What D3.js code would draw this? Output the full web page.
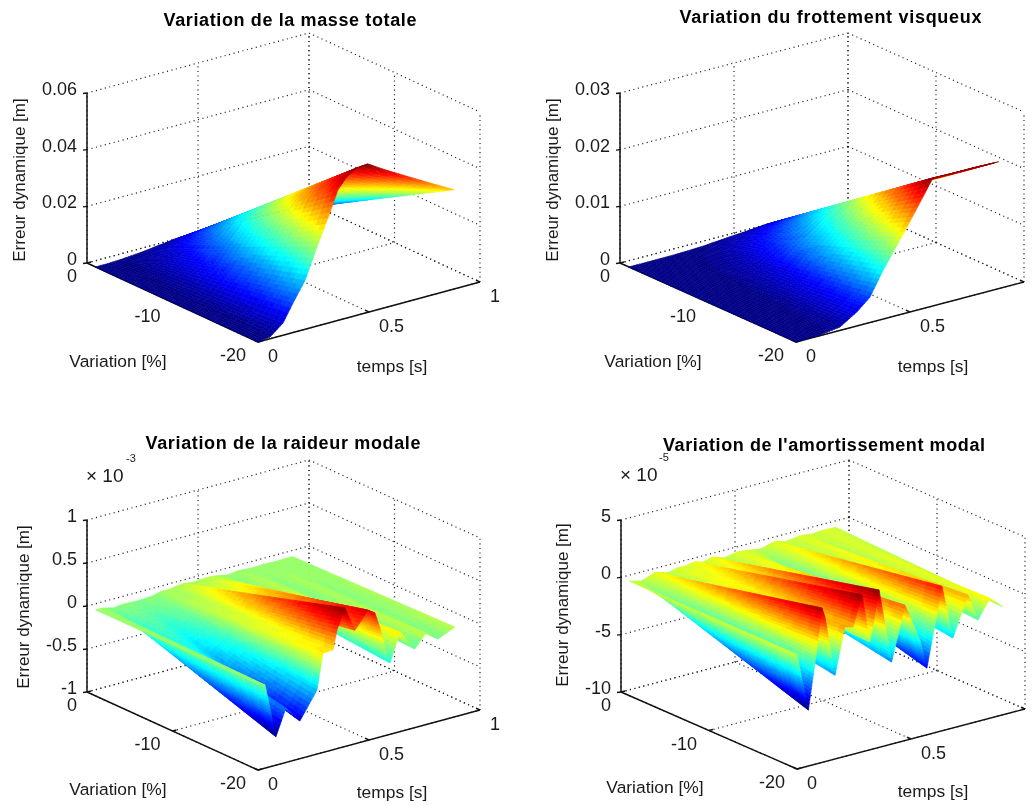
<!DOCTYPE html>
<html><head><meta charset="utf-8">
<script src="https://cdn.jsdelivr.net/npm/d3@7"></script>
<style>html,body{margin:0;padding:0;background:#fff;overflow:hidden}
svg{display:block;filter:blur(0.5px)}
text{font-family:"Liberation Sans",Arial,sans-serif;fill:#1a1a1a}</style>
</head><body><svg id="c" width="1035" height="805"></svg>
<script>
// --- data: error at variation -1 % and -20 % over time ---
const variations = [-1, -20];
const varTicks = [0, -10, -20];
const timeTicks = [0, 0.5, 1];

const time1 = [0,.054,.113,.158,.212,.266,.324,.36,.40,.446,.495,.563,.65,.75,.885];
const mass_v20 = [0,.0006,.0043,.0104,.0172,.0279,.0387,.046,.0498,.052,.0524,.0491,.0452,.0408,.035];
const mass_v1 = [0,.00003,.00022,.00052,.00086,.0014,.00194,.0023,.00249,.0026,.00262,.00246,.00226,.00204,.00175];
const zTicks1 = [0,.02,.04,.06];
const zLabels1 = ["0","0.02","0.04","0.06"];

const time2 = [0,.105,.193,.268,.325,.382,.487,.601,.7,.8,.89];
const visc_v20 = [0,.0001,.0006,.0025,.0045,.0086,.0151,.0226,.0225,.0225,.0224];
const visc_v1 = [0,.000005,.00003,.000125,.000225,.00043,.000755,.00113,.001125,.001125,.00112];
const zTicks2 = [0,.01,.02,.03];
const zLabels2 = ["0","0.01","0.02","0.03"];

const time3 = [0,.032,.081,.126,.189,.266,.293,.338,.356,.392,.437,.468,.495,.527,.55,.572,.595,.64,.707,.757,.811,.887];
const stiff_v20 = [0,-.035,-.67,-.367,-.562,-.256,.156,.16,.38,.61,.32,.42,.515,.458,.267,.03,-.17,.158,-.086,.065,-.043,.044];
const stiff_v1 = [0,-.002,-.034,-.018,-.028,-.013,.008,.008,.019,.03,.016,.021,.026,.023,.013,.002,-.009,.008,-.004,.003,-.002,.002];
const zTicks3 = [-1,-.5,0,.5,1];
const zLabels3 = ["-1","-0.5","0","0.5","1"];

const time4 = [0,.05,.079,.11,.123,.167,.21,.246,.285,.32,.36,.415,.474,.539,.57,.636,.684,.75,.794,.846,.904];
const damp_v20 = [0,-5.12,-1.2,3.46,2.6,-2.7,1.3,1.1,3.7,-.6,3.72,-2.85,1.8,-1.58,-4.18,2.6,-2.15,1.25,-1.16,.46,-.6];
const damp_v1 = [0,-.26,-.06,.17,.13,-.14,.07,.06,.19,-.03,.19,-.14,.09,-.08,-.21,.13,-.11,.06,-.06,.02,-.03];
const zTicks4 = [-10,-5,0,5];
const zLabels4 = ["-10","-5","0","5"];

// --- layout of each panel ---
const panels = [
 {title:"Variation de la masse totale",tw:253,tx:290,ty:26,o:[87,263],tv:[222,-60],sv:[171,79],h:170,zd:[0,.06],
  time:time1,rows:[mass_v1,mass_v20],zt:zTicks1,zl:zLabels1,yl:[19,180],vl:[118,362],tl:[392,367],tlabs:[0,.5,1]},
 {title:"Variation du frottement visqueux",tw:302,tx:830.5,ty:23,o:[620,263],tv:[228,-60],sv:[176,79],h:170,zd:[0,.03],
  time:time2,rows:[visc_v1,visc_v20],zt:zTicks2,zl:zLabels2,yl:[552,180],vl:[653,362],tl:[933,367],tlabs:[0,.5]},
 {title:"Variation de la raideur modale",tw:275,tx:283,ty:449,o:[87,692],tv:[222,-60],sv:[171,78],h:172,zd:[-1,1],
  time:time3,rows:[stiff_v1,stiff_v20],zt:zTicks3,zl:zLabels3,yl:[23,607],vl:[118,790],tl:[392,793],tlabs:[0,.5,1],
  mult:[86,475,"-3",131,458]},
 {title:"Variation de l'amortissement modal",tw:322,tx:824,ty:451,o:[621,692],tv:[228,-60],sv:[176,77],h:172,zd:[-10,5],
  time:time4,rows:[damp_v1,damp_v20],zt:zTicks4,zl:zLabels4,yl:[562,605],vl:[655,788],tl:[933,792],tlabs:[0,.5],
  mult:[620,474,"-5",664,457]}
];

function jet(v){ // 64-level jet
  const q=Math.min(63,Math.max(0,Math.floor(v*64)));
  const x=(q+.5)/64;
  const f=c=>Math.round(255*Math.max(0,Math.min(1,1.5-Math.abs(4*x-c))));
  return d3.rgb(f(3),f(2),f(1)).formatHex();
}

const svg=d3.select("#c");
const line=d3.line();

panels.forEach(p=>{
  const g=svg.append("g");
  const sS=d3.scaleLinear().domain([0,-20]).range([0,1]);
  const tS=d3.scaleLinear().domain([0,1]).range([0,1]);
  const zS=d3.scaleLinear().domain(p.zd).range([0,p.h]);
  const P=(v,t,z)=>[p.o[0]+sS(v)*p.sv[0]+tS(t)*p.tv[0],
                    p.o[1]+sS(v)*p.sv[1]+tS(t)*p.tv[1]-zS(z)];
  const zmin=p.zd[0],zmax=p.zd[1];
  const dotted=(a,b)=>g.append("path").attr("d",line([a,b])).attr("fill","none")
     .attr("stroke","#222").attr("stroke-width",1.2).attr("stroke-dasharray","1.1 3.5");
  const solid=(a,b,w)=>g.append("path").attr("d",line([a,b])).attr("fill","none")
     .attr("stroke","#111").attr("stroke-width",w||1.4);

  // back walls and floor grid
  p.zt.forEach(z=>{dotted(P(0,0,z),P(0,1,z));dotted(P(0,1,z),P(-20,1,z));});
  timeTicks.forEach(t=>{dotted(P(0,t,zmin),P(0,t,zmax));dotted(P(0,t,zmin),P(-20,t,zmin));});
  varTicks.forEach(v=>{dotted(P(v,1,zmin),P(v,1,zmax));dotted(P(v,0,zmin),P(v,1,zmin));});

  // axes
  solid(P(0,0,zmin),P(0,0,zmax),1.5);
  solid(P(0,0,zmin),P(-20,0,zmin));
  solid(P(-20,0,zmin),P(-20,1,zmin));
  p.zt.forEach(z=>{const a=P(0,0,z);solid(a,[a[0]-4,a[1]+0.5]);});
  varTicks.forEach(v=>{const a=P(v,0,zmin);solid(a,[a[0]+4,a[1]-1]);});
  timeTicks.forEach(t=>{const a=P(0-20,t,zmin);solid(a,[a[0]-4,a[1]-1.8]);});

  // surface, far to near
  const vals=p.rows.flat(), lo=d3.min(vals), hi=d3.max(vals);
  const cS=d3.scaleLinear().domain([lo,hi]).range([0,1]);
  const cells=[], ns=32, T=p.time, R=p.rows;
  const V=(u,i,f)=>{const a=R[0][i]+(R[0][i+1]-R[0][i])*f,b=R[1][i]+(R[1][i+1]-R[1][i])*f;return a+(b-a)*u;};
  for(let i=T.length-2;i>=0;i--){
    const dt=T[i+1]-T[i];
    const k=Math.max(1,Math.ceil(Math.max(dt*80,Math.abs(cS(R[1][i+1])-cS(R[1][i]))*28)));
    for(let j=k-1;j>=0;j--){
      const f0=j/k,f1=(j+1)/k,t0=T[i]+dt*f0,t1=T[i]+dt*f1;
      for(let m=0;m<ns;m++){
        const u0=m/ns,u1=(m+1)/ns;
        const v0=variations[0]+(variations[1]-variations[0])*u0,v1=variations[0]+(variations[1]-variations[0])*u1;
        const zc=V((u0+u1)/2,i,(f0+f1)/2);
        cells.push({pts:[P(v0,t0,V(u0,i,f0)),P(v1,t0,V(u1,i,f0)),P(v1,t1,V(u1,i,f1)),P(v0,t1,V(u0,i,f1))],c:jet(cS(zc))});
      }
    }
  }
  g.append("g").selectAll("path").data(cells).join("path")
   .attr("d",d=>line(d.pts)+"Z").attr("fill",d=>d.c).attr("stroke",d=>d.c).attr("stroke-width",.6);

  // text
  const txt=(x,y,s,size,anchor)=>g.append("text").attr("x",x).attr("y",y).attr("font-size",size)
     .attr("text-anchor",anchor||"middle").text(s);
  txt(p.tx,p.ty,p.title,18).attr("font-weight","bold").attr("textLength",p.tw).attr("lengthAdjust","spacing").style("fill","#000");
  p.zt.forEach((z,i)=>{const a=P(0,0,z);txt(a[0]-10,a[1]+2,p.zl[i],18,"end");});
  varTicks.forEach(v=>{const a=P(v,0,zmin);txt(a[0]-(v===0?10:12),a[1]+19,String(v),18,"end");});
  p.tlabs.forEach(t=>{const a=P(-20,t,zmin);txt(a[0]+10,a[1]+20,String(t),18,"start");});
  txt(p.vl[0],p.vl[1]+5,"Variation [%]",17.4);
  txt(p.tl[0],p.tl[1]+5,"temps [s]",17.4);
  txt(0,0,"Erreur dynamique [m]",17).attr("transform",`translate(${p.yl[0]+6},${p.yl[1]}) rotate(-90)`);
  if(p.mult){
    txt(p.mult[0],p.mult[1]+6.5,"× 10",19,"start");
    txt(p.mult[3],p.mult[4]+4,p.mult[2],11,"middle");
  }
});
</script></body></html>
